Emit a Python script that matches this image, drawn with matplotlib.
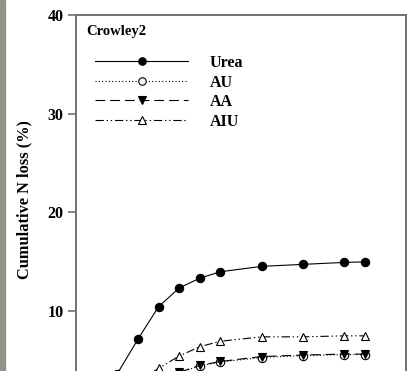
import matplotlib
matplotlib.use("Agg")
import matplotlib.pyplot as plt
from matplotlib.patches import Rectangle

plt.rcParams["font.family"] = ["Liberation Serif", "DejaVu Serif"]
plt.rcParams["font.weight"] = "bold"
plt.rcParams["lines.scale_dashes"] = False

# Дни и накопленные потери N (%)
days = [0, 1, 2, 3, 4, 5, 6, 7, 9, 11, 13, 14]
urea = [0.0, 1.0, 3.6, 7.1, 10.4, 12.3, 13.3, 13.95, 14.5, 14.7, 14.9, 14.95]
au = [0.0, 0.3, 1.0, 2.0, 3.0, 3.7, 4.4, 4.8, 5.25, 5.45, 5.55, 5.55]
aa = [0.0, 0.3, 1.0, 2.0, 3.0, 3.75, 4.45, 4.85, 5.35, 5.5, 5.6, 5.6]
aiu = [0.0, 0.5, 1.5, 2.8, 4.15, 5.4, 6.35, 6.9, 7.35, 7.35, 7.45, 7.45]
yticks = [10, 20, 30, 40]

series = [
    ("Urea", urea, dict(ls="-", marker="o", mfc="black")),
    ("AU", au, dict(ls=(0, (0.8, 1.6)), marker="o", mfc="white")),
    ("AA", aa, dict(ls=(0, (7, 3.6)), marker="v", mfc="black")),
    ("AIU", aiu, dict(ls=(0, (6, 2, 1, 2, 1, 2)), marker="^", mfc="white")),
]

fig = plt.figure(figsize=(4.13, 3.71), dpi=100)
fig.patches.append(Rectangle((0, 0), 5 / 413, 1, transform=fig.transFigure,
                             color="#8c9682", zorder=0))

# оси выходят за нижний край рисунка (исходник обрезан)
ax = fig.add_axes([76 / 413, -0.1032, 330 / 413, 1.0628])

for name, vals, st in series:
    ax.plot(days, vals, color="black", lw=0.8, mec="black", mew=0.8,
            ms=6, label=name, **st)

ax.set_xlim(0, 16)
ax.set_ylim(0, 40)
ax.set_yticks(yticks)
ax.set_xticks([])
ax.tick_params(axis="y", direction="out", length=6, width=1.2,
               color="#707070", labelsize=11.5, pad=3)
for lab in ax.get_yticklabels():
    lab.set_fontweight("bold")
for sp in ax.spines.values():
    sp.set_color("#707070")
    sp.set_linewidth(1.4)

ax.set_ylabel("Cumulative N loss (%)", fontsize=11.8, fontweight="bold")
ax.yaxis.set_label_coords(-0.133, 0.533)

ax.text(0.03, 0.958, "Crowley2", transform=ax.transAxes, fontsize=10.5,
        fontweight="bold", va="center", ha="left")

leg = ax.legend(loc="upper left", bbox_to_anchor=(0.015, 0.935), frameon=False,
                numpoints=1, handlelength=5.8, handletextpad=1.35,
                labelspacing=0.22, markerscale=0.9,
                prop={"size": 11.5, "weight": "bold"})

fig.savefig("out.png", dpi=100)
